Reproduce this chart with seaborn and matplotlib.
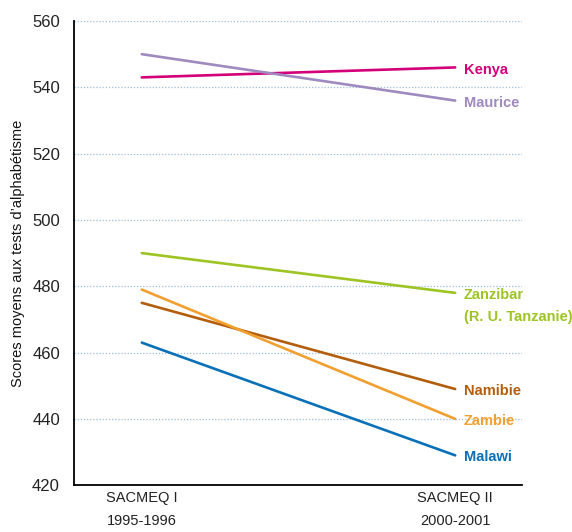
import pandas as pd
import matplotlib
matplotlib.use('Agg')
import matplotlib.pyplot as plt
import seaborn as sns

# Données
enquetes = ['SACMEQ I\n1995-1996', 'SACMEQ II\n2000-2001']
pays = ['Kenya', 'Maurice', 'Zanzibar', 'Namibie', 'Zambie', 'Malawi']
etiquettes = ['Kenya', 'Maurice', 'Zanzibar\n(R. U. Tanzanie)', 'Namibie', 'Zambie', 'Malawi']
score_1 = [543, 550, 490, 475, 479, 463]
score_2 = [546, 536, 478, 449, 440, 429]
couleurs = ['#d4007a', '#9f8ac0', '#9dc423', '#b35e0c', '#f1a02f', '#0a70b8']

datos = pd.DataFrame({
    'Pays': pays * 2,
    'Enquete': [0] * len(pays) + [1] * len(pays),
    'Score': score_1 + score_2,
})

sns.set_style('white')
plt.rcParams['font.family'] = ['Liberation Sans', 'DejaVu Sans']

fig = plt.figure(figsize=(5.72, 5.32), dpi=100)
ax = fig.add_axes([0.129, 0.088, 0.784, 0.8725])

sns.lineplot(data=datos, x='Enquete', y='Score', hue='Pays', hue_order=pays,
             palette=couleurs, linewidth=1.9, legend=False, ax=ax)

ax.set_xlim(-0.217, 1.214)
ax.set_ylim(420, 560)
ax.set_yticks(range(420, 561, 20))
ax.set_xticks([0, 1])
ax.set_xticklabels(enquetes, fontsize=10.5, linespacing=1.85, color='#222222')
ax.tick_params(axis='x', length=0, pad=4)
ax.tick_params(axis='y', length=0, pad=10, labelsize=12, labelcolor='#222222')
ax.set_xlabel('')
ax.set_ylabel("Scores moyens aux tests d\u2019alphabétisme", fontsize=10.5,
              labelpad=5, color='#111111')

# grille pointillée
for v in range(440, 561, 20):
    ax.axhline(v, color='#9dbfd8', linestyle=(0, (1, 1.5)), linewidth=0.9, zorder=0)

for s in ['top', 'right']:
    ax.spines[s].set_visible(False)
for s in ['left', 'bottom']:
    ax.spines[s].set_color('black')
    ax.spines[s].set_linewidth(1.3)

# étiquettes des pays
for lab, v, c in zip(etiquettes, score_2, couleurs):
    if '\n' in lab:
        ax.annotate(lab, xy=(1, v), xytext=(6, 3.5), textcoords='offset points',
                    ha='left', va='top', color=c, fontsize=10.5, fontweight='bold',
                    linespacing=1.75)
    else:
        ax.annotate(lab, xy=(1, v), xytext=(6, -1.5), textcoords='offset points',
                    ha='left', va='center', color=c, fontsize=10.5, fontweight='bold')

fig.savefig('out.png', dpi=100)
